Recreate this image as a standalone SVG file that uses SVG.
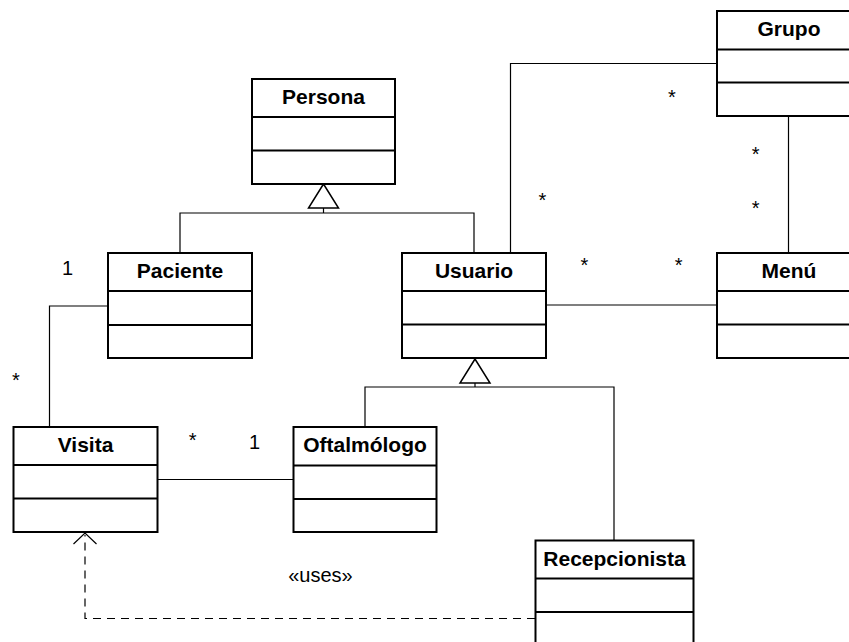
<svg xmlns="http://www.w3.org/2000/svg" width="849" height="642" viewBox="0 0 849 642">
<style>
.box{fill:#fff;stroke:#000;stroke-width:2}
.div{stroke:#000;stroke-width:2}
.name{font-family:"Liberation Sans",Arial,sans-serif;font-weight:bold;font-size:21px;text-anchor:middle;fill:#000}
.lbl{font-family:"Liberation Sans",Arial,sans-serif;font-size:20px;text-anchor:middle;fill:#000}
.con{fill:none;stroke:#000;stroke-width:1.2}
.dash{fill:none;stroke:#000;stroke-width:1.2;stroke-dasharray:8,6}
.tri{fill:#fff;stroke:#000;stroke-width:1.5}
</style>
<rect width="849" height="642" fill="#fff"/>
<g id="connectors">
  <polyline class="con" points="180,253 180,213 474,213 474,253"/>
  <line class="con" x1="323.5" y1="208" x2="323.5" y2="213"/>
  <polygon class="tri" points="323.5,184 308.5,208 338.5,208"/>
  <polyline class="con" points="365,427 365,387 614,387 614,541"/>
  <line class="con" x1="475" y1="383" x2="475" y2="387"/>
  <polygon class="tri" points="475,359 460,383 490,383"/>
  <polyline class="con" points="108,306 49.5,306 49.5,427"/>
  <line class="con" x1="157" y1="479.5" x2="293" y2="479.5"/>
  <polyline class="con" points="717,63.5 510.5,63.5 510.5,253"/>
  <line class="con" x1="788.5" y1="116" x2="788.5" y2="253"/>
  <line class="con" x1="546" y1="305" x2="717" y2="305"/>
  <polyline class="dash" points="535,618.5 85,618.5 85,535"/>
  <polyline class="con" points="73.5,544 85,533 96.5,544"/>
  <text class="lbl" x="67.5" y="275">1</text>
  <text class="lbl" x="16" y="386.5">*</text>
  <text class="lbl" x="192.7" y="446.5">*</text>
  <text class="lbl" x="254.5" y="449">1</text>
  <text class="lbl" x="672" y="103.5">*</text>
  <text class="lbl" x="755.7" y="161">*</text>
  <text class="lbl" x="755.7" y="214.5">*</text>
  <text class="lbl" x="542.3" y="207">*</text>
  <text class="lbl" x="584.3" y="272">*</text>
  <text class="lbl" x="678.7" y="272">*</text>
  <text class="lbl" x="320.5" y="582">«uses»</text>
</g>
<g id="Persona">
  <rect class="box" x="252" y="79" width="143" height="105"/>
  <line class="div" x1="252" y1="117" x2="395" y2="117"/>
  <line class="div" x1="252" y1="150.5" x2="395" y2="150.5"/>
  <text class="name" x="323.5" y="104">Persona</text>
</g>
<g id="Paciente">
  <rect class="box" x="108" y="253" width="144" height="105"/>
  <line class="div" x1="108" y1="291" x2="252" y2="291"/>
  <line class="div" x1="108" y1="325" x2="252" y2="325"/>
  <text class="name" x="180" y="278">Paciente</text>
</g>
<g id="Usuario">
  <rect class="box" x="402" y="253" width="144" height="105"/>
  <line class="div" x1="402" y1="291" x2="546" y2="291"/>
  <line class="div" x1="402" y1="324.5" x2="546" y2="324.5"/>
  <text class="name" x="474" y="278">Usuario</text>
</g>
<g id="Grupo">
  <rect class="box" x="717" y="11" width="144" height="105"/>
  <line class="div" x1="717" y1="49.5" x2="861" y2="49.5"/>
  <line class="div" x1="717" y1="82.5" x2="861" y2="82.5"/>
  <text class="name" x="789" y="36">Grupo</text>
</g>
<g id="Menu">
  <rect class="box" x="717" y="253" width="144" height="105"/>
  <line class="div" x1="717" y1="291" x2="861" y2="291"/>
  <line class="div" x1="717" y1="324.5" x2="861" y2="324.5"/>
  <text class="name" x="789" y="278">Menú</text>
</g>
<g id="Visita">
  <rect class="box" x="13.5" y="427" width="144" height="105"/>
  <line class="div" x1="13.5" y1="465" x2="157.5" y2="465"/>
  <line class="div" x1="13.5" y1="498.5" x2="157.5" y2="498.5"/>
  <text class="name" x="85.5" y="452">Visita</text>
</g>
<g id="Oftalmologo">
  <rect class="box" x="293.5" y="427" width="143" height="105"/>
  <line class="div" x1="293.5" y1="465.5" x2="436.5" y2="465.5"/>
  <line class="div" x1="293.5" y1="499" x2="436.5" y2="499"/>
  <text class="name" x="365" y="452">Oftalmólogo</text>
</g>
<g id="Recepcionista">
  <rect class="box" x="535.5" y="540.5" width="158" height="110"/>
  <line class="div" x1="535.5" y1="578.5" x2="693.5" y2="578.5"/>
  <line class="div" x1="535.5" y1="612" x2="693.5" y2="612"/>
  <text class="name" x="614.5" y="565.5">Recepcionista</text>
</g>
</svg>
